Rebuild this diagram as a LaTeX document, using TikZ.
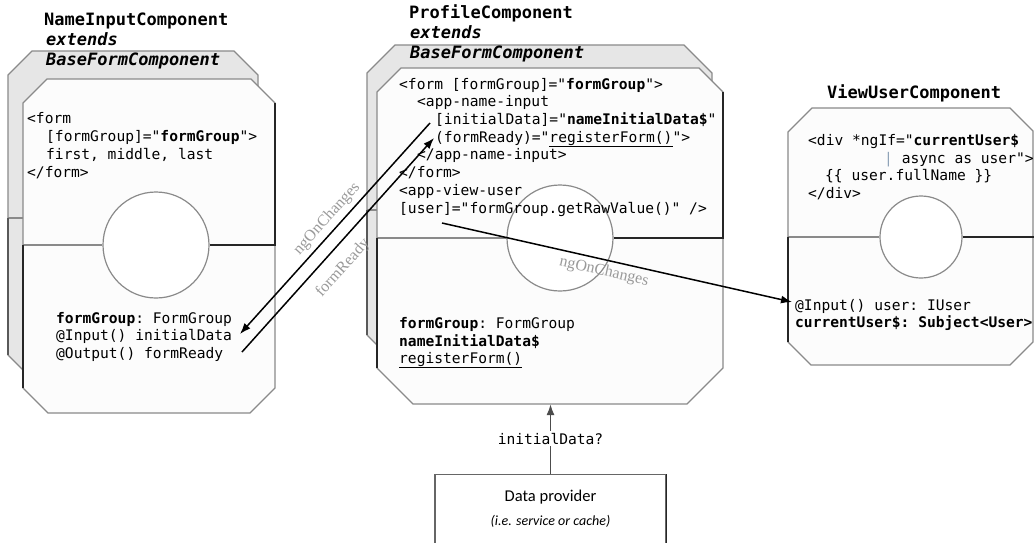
\documentclass[tikz,border=0pt]{standalone}
\usepackage{fontspec}
\setmonofont{DejaVu Sans Mono}
\newfontfamily\lblserif{Liberation Serif}
\newfontfamily\carl{Carlito}
\usetikzlibrary{arrows.meta}
\definecolor{edgec}{HTML}{8A8A8A}
\definecolor{backfill}{HTML}{E6E6E6}
\definecolor{frontfill}{HTML}{FCFCFC}
\definecolor{lblc}{HTML}{9A9A9A}
\definecolor{pipec}{HTML}{8FA3B8}
\newcommand\codefont{\fontsize{14.6}{17.7}\selectfont\ttfamily}
\newcommand\ttlfont{\fontsize{17}{20}\selectfont\ttfamily\bfseries}
\tikzset{
  code/.style={font=\codefont, inner sep=0pt, anchor=base west},
  ttl/.style={font=\ttlfont, inner sep=0pt, anchor=base west},
  back/.style={fill=backfill, draw=edgec, line width=1.2pt},
  front/.style={fill=frontfill, draw=edgec, line width=1.2pt},
  thin/.style={draw=edgec, line width=1.2pt},
  dark/.style={draw=black!85, line width=1.6pt},
  darkb/.style={draw=black!65, line width=1.3pt},
  hub/.style={circle, draw=edgec, fill=white, line width=1.2pt, inner sep=0pt},
  flow/.style={-{Latex[length=11pt,width=8pt]}, line width=1.5pt},
  flowg/.style={-{Latex[length=11pt,width=8pt]}, line width=1.8pt, draw=black!70},
  lbl/.style={font=\lblserif\fontsize{16}{18}\selectfont, text=lblc, inner sep=0pt},
}
\begin{document}
\begin{tikzpicture}[x=1pt,y=-1pt]
\useasboundingbox (0,0) rectangle (1034,542);
\fill[white] (0,0) rectangle (1034,542);

% ---------- left component ----------
\draw[back] (8,75)--(32,51)--(234,51)--(258,75)--(258,355)--(233,380)--(33,380)--(8,355)--cycle;
\draw[thin] (8,218)--(23,218);
\draw[darkb] (8,218)--(8,355);
\draw[front] (23,103)--(47,79)--(251,79)--(275,103)--(275,388)--(250,413)--(48,413)--(23,388)--cycle;
\node[hub, minimum size=106pt] (c1) at (156,245) {};
\draw[thin] (23,245)--(c1.west);
\draw[dark] (c1.east)--(275,245)--(275,103);
\draw[dark] (23,245)--(23,388);

% ---------- middle component ----------
\draw[back] (367,73)--(395,45)--(684,45)--(712,73)--(712,335)--(677,370)--(402,370)--(367,335)--cycle;
\draw[thin] (367,210)--(377,210);
\draw[darkb] (367,210)--(367,335);
\draw[front] (377,92)--(401,68)--(699,68)--(723,92)--(723,368)--(687,404)--(413,404)--(377,368)--cycle;
\node[hub, minimum size=106pt] (c2) at (560,238) {};
\draw[thin] (377,238)--(c2.west);
\draw[dark] (c2.east)--(723,238)--(723,92);
\draw[dark] (377,238)--(377,368);

% ---------- right component ----------
\draw[front] (788,132)--(812,108)--(1010,108)--(1033,131)--(1033,342)--(1010,365)--(811,365)--(788,342)--cycle;
\node[hub, minimum size=82pt] (c3) at (921,237) {};
\draw[thin] (788,237)--(c3.west);
\draw[dark] (c3.east)--(1034,237);
\draw[dark] (788,237)--(788,342);

% ---------- data provider ----------
\node[draw=black!60, line width=1.2pt, fill=white, minimum width=231pt, minimum height=90pt, anchor=north, inner sep=0pt] (dp) at (550.5,474) {};
\draw[dark] (dp.north east)--(dp.south east);
\node[font=\carl\fontsize{16.5}{19}\selectfont, inner sep=0pt, anchor=base] (dpt) at (550.5,501) {Data provider};
\node[font=\carl\itshape\fontsize{14}{16}\selectfont, inner sep=0pt, anchor=base] (dps) at (550.5,525) {(i.e. service or cache)};

% ---------- titles ----------
\node[ttl] (t1) at (44,25) {NameInputComponent};
\node[ttl] (t2) at (46,45) {\itshape extends};
\node[ttl] (t3) at (46,65) {\itshape BaseFormComponent};
\node[ttl] (t4) at (409,18) {ProfileComponent};
\node[ttl] (t5) at (410,38) {\itshape extends};
\node[ttl] (t6) at (410,58) {\itshape BaseFormComponent};
\node[ttl] (t7) at (827,98) {ViewUserComponent};

% ---------- left code ----------
\node[code] (la1) at (27,123) {<form};
\node[code] (la2) at (46,141) {[formGroup]="\textbf{formGroup}">};
\node[code] (la3) at (46,159) {first, middle, last};
\node[code] (la4) at (27,177) {</form>};
\node[code] (lb1) at (56,323) {\textbf{formGroup}: FormGroup};
\node[code] (lb2) at (56,340.5) {@Input() initialData};
\node[code] (lb3) at (56,358) {@Output() formReady};

% ---------- middle code ----------
\node[code] (ma1) at (399,89) {<form [formGroup]="\textbf{formGroup}">};
\node[code] (ma2) at (417,106.7) {<app-name-input};
\node[code] (ma3) at (435,124.4) {[initialData]="\textbf{nameInitialData\$}"};
\node[code] (ma4) at (435,142) {(formReady)="\underline{registerForm()}">};
\node[code] (ma5) at (417,159.8) {</app-name-input>};
\node[code] (ma6) at (399,177.5) {</form>};
\node[code] (ma7) at (399,195.2) {<app-view-user};
\node[code] (ma8) at (399,213) {[user]="formGroup.getRawValue()" />};
\node[code] (mb1) at (399,328) {\textbf{formGroup}: FormGroup};
\node[code] (mb2) at (399,346) {\textbf{nameInitialData\$}};
\node[code] (mb3) at (399,363) {\underline{registerForm()}};

% ---------- right code ----------
\node[code] (ra1) at (808,145) {<div *ngIf="\textbf{currentUser\$}};
\node[code] (ra2) at (884,163) {{\color{pipec}|} async as user">};
\node[code] (ra3) at (825,180) {\{\{ user.fullName \}\}};
\node[code] (ra4) at (808,198) {</div>};
\node[code] (rb1) at (795,310) {@Input() user: IUser};
\node[code] (rb2) at (795,327) {\textbf{currentUser\$: Subject<User>}};

% ---------- connectors ----------
\coordinate (a1s) at (430,123);
\coordinate (a1e) at (240,334);
\coordinate (a2s) at (242,352);
\coordinate (a2e) at (434,138);
\coordinate (a3s) at (442,223);
\coordinate (a3e) at (792,302);
\coordinate (pbot) at (550.5,404);
\draw[flow] (a1s)--(a1e);
\draw[flow] (a2s)--(a2e);
\draw[flow] (a3s)--(a3e);
\draw[flowg] (dp.north)--(pbot);
\node[code, anchor=base, fill=white, inner sep=2pt] (idq) at (550.5,444) {initialData?};

\node[lbl, rotate=48] (n1) at (327,219) {ngOnChanges};
\node[lbl, rotate=48] (n2) at (343,268) {formReady};
\node[lbl, rotate=-12.5] (n3) at (604,272) {ngOnChanges};
\end{tikzpicture}
\end{document}
